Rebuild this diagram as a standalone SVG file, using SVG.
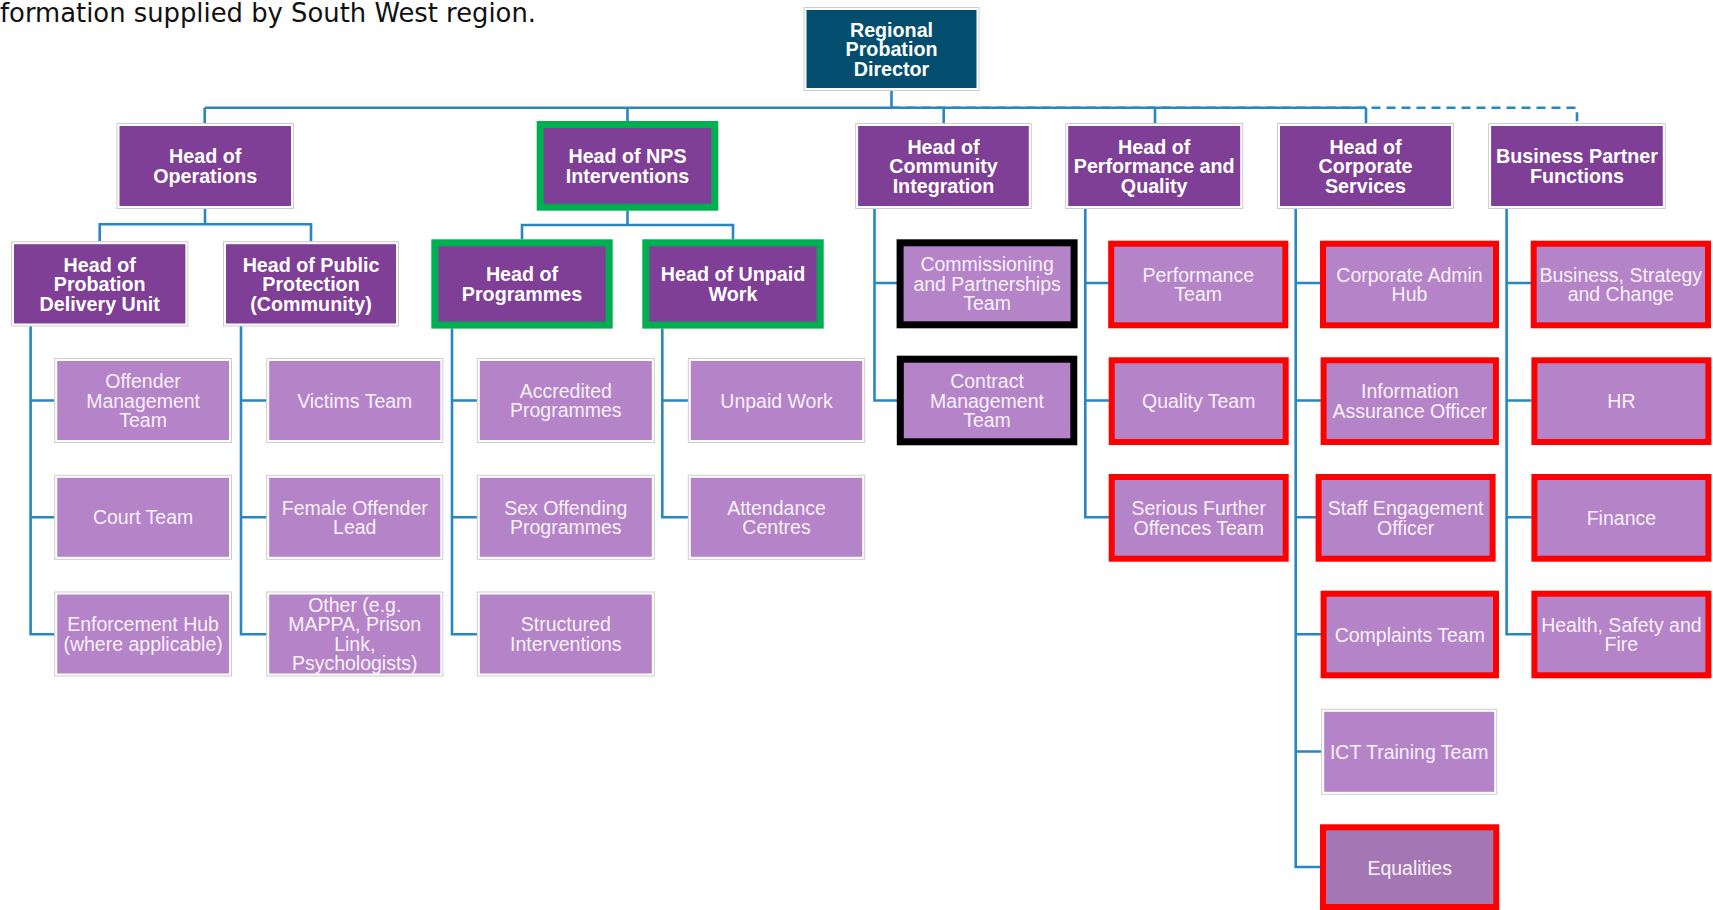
<svg xmlns="http://www.w3.org/2000/svg" width="1713" height="910" viewBox="0 0 1713 910">
<style>
.ln{fill:none;stroke:#2887bf;stroke-width:2.6}
.dash{fill:none;stroke:#2887bf;stroke-width:2.6;stroke-dasharray:9 6}
.ol{fill:#fff;stroke:#cdcdcd;stroke-width:1}
.dk{fill:#7f3f97}
.lt{fill:#b583c8}
.eq{fill:#a477b4}
.rpd{fill:#034e6e}
.g{stroke:#00b050;stroke-width:7}
.r{stroke:#ff0000;stroke-width:6}
.k{stroke:#000;stroke-width:7}
.tb{font-family:"Liberation Sans",Arial,sans-serif;font-weight:bold;font-size:19.7px;fill:#fff;text-anchor:middle}
.tr{font-family:"Liberation Sans",Arial,sans-serif;font-size:19.5px;fill:#f7f1f9;text-anchor:middle}
.hdr{font-family:"DejaVu Sans",Verdana,sans-serif;font-size:25.7px;fill:#111}
</style>
<text class="hdr" x="0" y="21.5" textLength="536" lengthAdjust="spacingAndGlyphs">formation supplied by South West region.</text>
<g id="connectors">
<path class="ln" d="M204.7 107.7H1366M891.5 90.7V107.7M204.7 107.7V123.5M627.5 107.7V121M943.7 107.7V123.5M1155 107.7V123.5M1366 107.7V123.5"/>
<path class="dash" d="M891.5 107.7H1577V123.5"/>
<path class="ln" d="M205 208.5V224.3M99.7 241.7V224.3H311V241.7"/>
<path class="ln" d="M627.5 210.7V225M522 239.3V225H733V239.3"/>
<path class="ln" d="M30.6 326V634.3H54.7M30.6 400.5H54.7M30.6 517.3H54.7"/>
<path class="ln" d="M241 326V634.3H266.7M241 400.5H266.7M241 517.3H266.7"/>
<path class="ln" d="M452 328.5V634.3H477.3M452 400.5H477.3M452 517.3H477.3"/>
<path class="ln" d="M662.3 328.5V517.3H688.3M662.3 400.5H688.3"/>
<path class="ln" d="M874.5 208.5V400.5H897M874.5 283H897"/>
<path class="ln" d="M1085.3 208.5V517.3H1109M1085.3 283H1109M1085.3 400.5H1109"/>
<path class="ln" d="M1295.7 208.5V867H1321M1295.7 283H1321M1295.7 400.5H1321M1295.7 517.3H1316M1295.7 634.3H1321M1295.7 751.5H1322"/>
<path class="ln" d="M1506.6 208.5V634.3H1531.5M1506.6 283H1531M1506.6 400.5H1531.5M1506.6 517.3H1531.5"/>
</g>

<g id="n-rpd"><rect class="ol" x="804" y="7.5" width="175" height="83"/><rect class="rpd" x="806.5" y="10" width="170" height="78"/>
<text class="tb"><tspan x="891.5" y="36.5">Regional</tspan><tspan x="891.5" y="56">Probation</tspan><tspan x="891.5" y="75.5">Director</tspan></text></g>

<g id="n-ops"><rect class="ol" x="117" y="123.5" width="176.5" height="85"/><rect class="dk" x="119.5" y="126" width="171.5" height="80"/>
<text class="tb"><tspan x="205.2" y="163.25">Head of</tspan><tspan x="205.2" y="182.75">Operations</tspan></text></g>

<g id="n-nps"><rect class="dk g" x="540.2" y="124.5" width="174.6" height="82.7"/>
<text class="tb"><tspan x="627.5" y="163.25">Head of NPS</tspan><tspan x="627.5" y="182.75">Interventions</tspan></text></g>

<g id="n-ci"><rect class="ol" x="855.6" y="123.5" width="175.7" height="85"/><rect class="dk" x="858.1" y="126" width="170.7" height="80"/>
<text class="tb"><tspan x="943.5" y="153.5">Head of</tspan><tspan x="943.5" y="173">Community</tspan><tspan x="943.5" y="192.5">Integration</tspan></text></g>

<g id="n-pq"><rect class="ol" x="1065.7" y="123.5" width="177" height="85"/><rect class="dk" x="1068.2" y="126" width="172" height="80"/>
<text class="tb"><tspan x="1154.2" y="153.5">Head of</tspan><tspan x="1154.2" y="173">Performance and</tspan><tspan x="1154.2" y="192.5">Quality</tspan></text></g>

<g id="n-cs"><rect class="ol" x="1277.5" y="123.5" width="176" height="85"/><rect class="dk" x="1280" y="126" width="171" height="80"/>
<text class="tb"><tspan x="1365.5" y="153.5">Head of</tspan><tspan x="1365.5" y="173">Corporate</tspan><tspan x="1365.5" y="192.5">Services</tspan></text></g>

<g id="n-bpf"><rect class="ol" x="1488.6" y="123.5" width="176.7" height="85"/><rect class="dk" x="1491.1" y="126" width="171.7" height="80"/>
<text class="tb"><tspan x="1577" y="163.25">Business Partner</tspan><tspan x="1577" y="182.75">Functions</tspan></text></g>

<g id="n-pdu"><rect class="ol" x="11.5" y="241.7" width="176.4" height="84.3"/><rect class="dk" x="14" y="244.2" width="171.4" height="79.3"/>
<text class="tb"><tspan x="99.7" y="271.5">Head of</tspan><tspan x="99.7" y="291">Probation</tspan><tspan x="99.7" y="310.5">Delivery Unit</tspan></text></g>

<g id="n-pp"><rect class="ol" x="223.5" y="241.7" width="175" height="84.3"/><rect class="dk" x="226" y="244.2" width="170" height="79.3"/>
<text class="tb"><tspan x="311" y="271.5">Head of Public</tspan><tspan x="311" y="291">Protection</tspan><tspan x="311" y="310.5">(Community)</tspan></text></g>

<g id="n-prog"><rect class="dk g" x="434.8" y="242.8" width="174.4" height="82.3"/>
<text class="tb"><tspan x="522" y="281.25">Head of</tspan><tspan x="522" y="300.75">Programmes</tspan></text></g>

<g id="n-upw"><rect class="dk g" x="645.8" y="242.8" width="174.4" height="82.3"/>
<text class="tb"><tspan x="733" y="281.25">Head of Unpaid</tspan><tspan x="733" y="300.75">Work</tspan></text></g>

<g id="n-comm"><rect class="lt k" x="900.1" y="242.8" width="174" height="82"/>
<text class="tr"><tspan x="987.1" y="271">Commissioning</tspan><tspan x="987.1" y="290.5">and Partnerships</tspan><tspan x="987.1" y="310">Team</tspan></text></g>

<g id="n-perf"><rect class="lt r" x="1111.2" y="243.7" width="174.1" height="81.6"/>
<text class="tr"><tspan x="1198.2" y="281.75">Performance</tspan><tspan x="1198.2" y="301.25">Team</tspan></text></g>

<g id="n-cah"><rect class="lt r" x="1323" y="243.7" width="173" height="81.6"/>
<text class="tr"><tspan x="1409.5" y="281.75">Corporate Admin</tspan><tspan x="1409.5" y="301.25">Hub</tspan></text></g>

<g id="n-bsc"><rect class="lt r" x="1533.7" y="243.7" width="174.3" height="81.6"/>
<text class="tr"><tspan x="1620.8" y="281.75">Business, Strategy</tspan><tspan x="1620.8" y="301.25">and Change</tspan></text></g>

<g id="n-omt"><rect class="ol" x="54.7" y="358.5" width="176.8" height="84"/><rect class="lt" x="57.2" y="361" width="171.8" height="79"/>
<text class="tr"><tspan x="143.1" y="388">Offender</tspan><tspan x="143.1" y="407.5">Management</tspan><tspan x="143.1" y="427">Team</tspan></text></g>

<g id="n-vic"><rect class="ol" x="266.7" y="358.5" width="176.1" height="84"/><rect class="lt" x="269.2" y="361" width="171.1" height="79"/>
<text class="tr"><tspan x="354.75" y="407.5">Victims Team</tspan></text></g>

<g id="n-acc"><rect class="ol" x="477.3" y="358.5" width="177" height="84"/><rect class="lt" x="479.8" y="361" width="172" height="79"/>
<text class="tr"><tspan x="565.8" y="397.75">Accredited</tspan><tspan x="565.8" y="417.25">Programmes</tspan></text></g>

<g id="n-uw"><rect class="ol" x="688.3" y="358.5" width="176.4" height="84"/><rect class="lt" x="690.8" y="361" width="171.4" height="79"/>
<text class="tr"><tspan x="776.5" y="407.5">Unpaid Work</tspan></text></g>

<g id="n-cmt"><rect class="lt k" x="900.3" y="359.2" width="173.5" height="82.6"/>
<text class="tr"><tspan x="987" y="388">Contract</tspan><tspan x="987" y="407.5">Management</tspan><tspan x="987" y="427">Team</tspan></text></g>

<g id="n-qt"><rect class="lt r" x="1111.7" y="360.3" width="174" height="81.7"/>
<text class="tr"><tspan x="1198.7" y="408">Quality Team</tspan></text></g>

<g id="n-iao"><rect class="lt r" x="1323.6" y="360.3" width="172.3" height="81.7"/>
<text class="tr"><tspan x="1409.75" y="398.25">Information</tspan><tspan x="1409.75" y="417.75">Assurance Officer</tspan></text></g>

<g id="n-hr"><rect class="lt r" x="1534.4" y="360.3" width="174" height="81.7"/>
<text class="tr"><tspan x="1621.4" y="408">HR</tspan></text></g>

<g id="n-ct"><rect class="ol" x="54.7" y="475.3" width="176.8" height="84"/><rect class="lt" x="57.2" y="477.8" width="171.8" height="79"/>
<text class="tr"><tspan x="143.1" y="524.3">Court Team</tspan></text></g>

<g id="n-fol"><rect class="ol" x="266.7" y="475.3" width="176.1" height="84"/><rect class="lt" x="269.2" y="477.8" width="171.1" height="79"/>
<text class="tr"><tspan x="354.75" y="514.55">Female Offender</tspan><tspan x="354.75" y="534.05">Lead</tspan></text></g>

<g id="n-sop"><rect class="ol" x="477.3" y="475.3" width="177" height="84"/><rect class="lt" x="479.8" y="477.8" width="172" height="79"/>
<text class="tr"><tspan x="565.8" y="514.55">Sex Offending</tspan><tspan x="565.8" y="534.05">Programmes</tspan></text></g>

<g id="n-ac"><rect class="ol" x="688.3" y="475.3" width="176.4" height="84"/><rect class="lt" x="690.8" y="477.8" width="171.4" height="79"/>
<text class="tr"><tspan x="776.5" y="514.55">Attendance</tspan><tspan x="776.5" y="534.05">Centres</tspan></text></g>

<g id="n-sfo"><rect class="lt r" x="1111.7" y="477" width="174" height="81.7"/>
<text class="tr"><tspan x="1198.7" y="515.1">Serious Further</tspan><tspan x="1198.7" y="534.6">Offences Team</tspan></text></g>

<g id="n-seo"><rect class="lt r" x="1318.6" y="477" width="174" height="81.7"/>
<text class="tr"><tspan x="1405.6" y="515.1">Staff Engagement</tspan><tspan x="1405.6" y="534.6">Officer</tspan></text></g>

<g id="n-fin"><rect class="lt r" x="1534.4" y="477" width="174" height="81.7"/>
<text class="tr"><tspan x="1621.4" y="524.8">Finance</tspan></text></g>

<g id="n-enf"><rect class="ol" x="54.7" y="592" width="176.8" height="84"/><rect class="lt" x="57.2" y="594.5" width="171.8" height="79"/>
<text class="tr"><tspan x="143.1" y="631.25">Enforcement Hub</tspan><tspan x="143.1" y="650.75">(where applicable)</tspan></text></g>

<g id="n-oth"><rect class="ol" x="266.7" y="592" width="176.1" height="84"/><rect class="lt" x="269.2" y="594.5" width="171.1" height="79"/>
<text class="tr"><tspan x="354.75" y="611.75">Other (e.g.</tspan><tspan x="354.75" y="631.25">MAPPA, Prison</tspan><tspan x="354.75" y="650.75">Link,</tspan><tspan x="354.75" y="670.25">Psychologists)</tspan></text></g>

<g id="n-si"><rect class="ol" x="477.3" y="592" width="177" height="84"/><rect class="lt" x="479.8" y="594.5" width="172" height="79"/>
<text class="tr"><tspan x="565.8" y="631.25">Structured</tspan><tspan x="565.8" y="650.75">Interventions</tspan></text></g>

<g id="n-cpt"><rect class="lt r" x="1323.6" y="593.7" width="172.4" height="81.6"/>
<text class="tr"><tspan x="1409.8" y="641.5">Complaints Team</tspan></text></g>

<g id="n-hsf"><rect class="lt r" x="1534.4" y="593.7" width="174" height="81.6"/>
<text class="tr"><tspan x="1621.4" y="631.75">Health, Safety and</tspan><tspan x="1621.4" y="651.25">Fire</tspan></text></g>

<g id="n-ict"><rect class="ol" x="1321.7" y="709.3" width="175" height="85"/><rect class="lt" x="1324.2" y="711.8" width="170" height="80"/>
<text class="tr"><tspan x="1409.2" y="758.8">ICT Training Team</tspan></text></g>

<g id="n-eq"><rect class="eq r" x="1323" y="827.3" width="173.3" height="79.7"/>
<text class="tr"><tspan x="1409.7" y="874.5">Equalities</tspan></text></g>
</svg>
